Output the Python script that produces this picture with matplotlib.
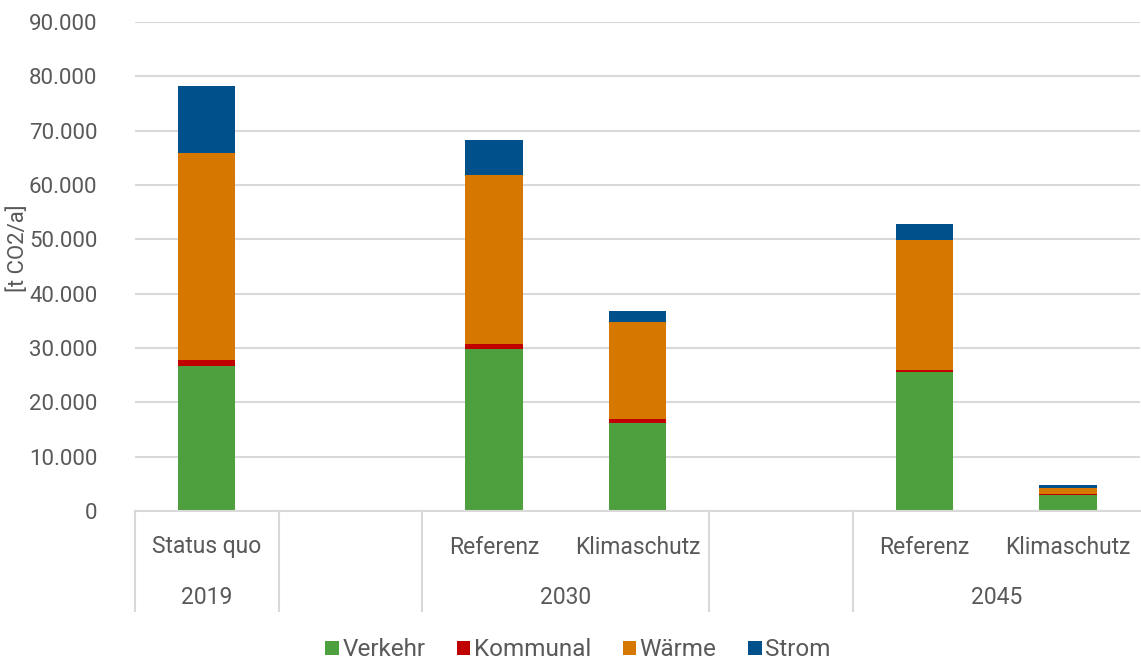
import matplotlib.pyplot as plt
from matplotlib.ticker import FuncFormatter
from matplotlib.lines import Line2D
import numpy as np

plt.rcParams['font.family'] = ['Roboto', 'DejaVu Sans']

# category slots (empty strings are spacer slots between the years)
scenarios = ["Status quo", "", "Referenz", "Klimaschutz", "", "Referenz", "Klimaschutz"]
years = ["2019", "", "2030", "", "2045"]
year_sizes = [1, 1, 2, 1, 2]

# emissions per sector [t CO2/a]
verkehr = [26600, 0, 29800, 16200, 0, 25500, 3000]
kommunal = [1100, 0, 900, 700, 0, 500, 100]
waerme = [38200, 0, 31100, 17800, 0, 23900, 1100]
strom = [12300, 0, 6500, 2100, 0, 2900, 500]

series = [("Verkehr", verkehr, "#4e9f3d"),
          ("Kommunal", kommunal, "#c00000"),
          ("Wärme", waerme, "#d67800"),
          ("Strom", strom, "#00508c")]

text_color = "#595959"
grid_color = "#d9d9d9"

fig = plt.figure(figsize=(11.41, 6.6), dpi=100)
ax = fig.add_axes([135 / 1141, 1 - 511 / 660, 1005 / 1141, 489 / 660])

x = np.arange(len(scenarios))
bottom = np.zeros(len(scenarios))
handles = []
for name, vals, col in series:
    vals = np.array(vals, dtype=float)
    b = ax.bar(x, vals, 0.4, bottom=bottom, color=col, linewidth=0, label=name)
    handles.append(b)
    bottom += vals

ax.set_xlim(-0.5, len(scenarios) - 0.5)
ax.set_ylim(0, 90000)
ax.set_yticks(np.arange(0, 90001, 10000))
ax.yaxis.set_major_formatter(FuncFormatter(lambda v, p: f"{int(v):,}".replace(",", ".")))
ax.tick_params(axis='y', length=0, pad=27, labelsize=16, labelcolor=text_color)
ax.set_xticks([])
ax.grid(axis='y', color=grid_color, linewidth=1.5)
ax.set_axisbelow(True)
for s in ["left", "right", "top"]:
    ax.spines[s].set_visible(False)
ax.spines["bottom"].set_color(grid_color)
ax.spines["bottom"].set_linewidth(1.5)

ax.set_ylabel("[t CO2/a]", fontsize=16, color=text_color)
ax.yaxis.set_label_coords(-106 / 1005, 0.538)

# two-row category axis
trans = ax.get_xaxis_transform()
row1 = -36 / 489
row2 = -86 / 489
line_bottom = -100 / 489
for xi, lab in zip(x, scenarios):
    ax.text(xi, row1, lab, transform=trans, ha='center', va='center',
            fontsize=16.5, color=text_color)

start = 0
edges = [0]
for yr, n in zip(years, year_sizes):
    center = start + (n - 1) / 2
    ax.text(center, row2, yr, transform=trans, ha='center', va='center',
            fontsize=16.5, color=text_color)
    start += n
    edges.append(start)

for e in edges[:-1]:
    ax.add_line(Line2D([e - 0.5, e - 0.5], [0, line_bottom], transform=trans,
                       color=grid_color, linewidth=1.5, clip_on=False))

fig.legend(handles=handles, loc='center', bbox_to_anchor=(578 / 1141, 1 - 650 / 660),
           ncol=4, frameon=False, fontsize=17.5, labelcolor=text_color,
           handlelength=0.55, handleheight=0.55, handletextpad=0.15, columnspacing=1.3,
           borderpad=0)

fig.savefig("out.png", dpi=100)
